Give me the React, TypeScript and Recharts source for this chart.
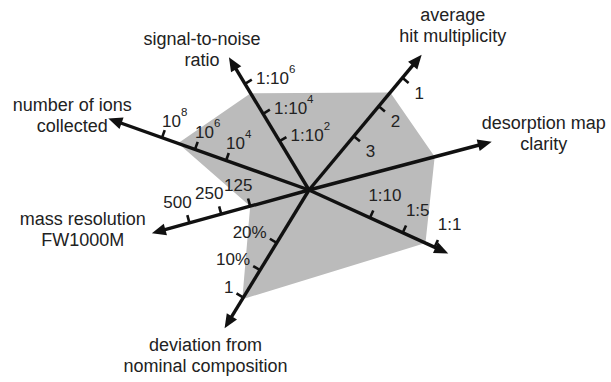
import { RadarChart, Radar, PolarAngleAxis, PolarRadiusAxis } from 'recharts'

// axes in counter-clockwise order, angle in degrees (0 = pointing right)
const AXIS_NAMES = [
  ['desorption map', 'clarity'],
  ['average', 'hit multiplicity'],
  ['signal-to-noise', 'ratio'],
  ['number of ions', 'collected'],
  ['mass resolution', 'FW1000M'],
  ['deviation from', 'nominal composition'],
  [],
]
const AXIS_ANGLES = [14.8, 50.2, 121.1, 160.4, 195.4, 238.6, 335.5]
const AXIS_LENGTHS = [189, 176, 155, 213, 163, 162, 153]
const SCORES = [130, 127, 113, 139, 61, 128, 128]
const TICK_1 = [null, 70, 57, 88, 61, 62, 67]
const TICK_2 = [null, 109, 89, 121, 91, 94, 103]
const TICK_3 = [null, 146, 124, 156, 124, 126, 138]
const TICK_LABELS = [
  [],
  ['3', '2', '1'],
  ['1:10^2', '1:10^4', '1:10^6'],
  ['10^4', '10^6', '10^8'],
  ['125', '250', '500'],
  ['20%', '10%', '1'],
  ['1:10', '1:5', '1:1'],
]

const data = AXIS_ANGLES.map((angle, i) => ({
  angle,
  len: AXIS_LENGTHS[i],
  score: SCORES[i],
  t1: TICK_1[i],
  t2: TICK_2[i],
  t3: TICK_3[i],
  idx: i,
}))

const W = 611
const H = 382
const CX = 309
const CY = 190
const R_MAX = 213
const FONT = '"Liberation Sans", Arial, sans-serif'
const INK = '#111'
const TEXT = '#222'

// name label: offset of centre / first baseline from arrow tip
const NAME_POS = [
  { dx: 52, dy: -13 },
  { dx: 31, dy: -34 },
  { dx: -27, dy: -12 },
  { dx: -36, dy: -8 },
  { dx: -69, dy: -8 },
  { dx: -19, dy: 23 },
  { dx: 0, dy: 0 },
]
// tick mark side and label offset from the point on the axis
const TICK_POS: { side: number; dx: number; dy: number; anchor: 'start' | 'middle' | 'end' }[] = [
  { side: 1, dx: 0, dy: 0, anchor: 'start' },
  { side: 1, dx: 12, dy: 21, anchor: 'start' },
  { side: 1, dx: 11, dy: 0, anchor: 'start' },
  { side: 1, dx: 0, dy: -11, anchor: 'start' },
  { side: 1, dx: -12, dy: -15, anchor: 'middle' },
  { side: 1, dx: -10, dy: -5, anchor: 'end' },
  { side: -1, dx: 15, dy: -17, anchor: 'middle' },
]

function unit(p: any) {
  const cx = p.cx ?? CX
  const cy = p.cy ?? CY
  const dx = p.x - cx
  const dy = p.y - cy
  const l = Math.hypot(dx, dy) || 1
  return { cx, cy, ux: dx / l, uy: dy / l }
}

function AxisArrows(props: any) {
  const { points } = props
  return (
    <g>
      {points.map((p: any, i: number) => {
        const { cx, cy, ux, uy } = unit(p)
        const nx = -uy
        const ny = ux
        const hl = 14
        const hw = 6
        const bx = p.x - ux * hl
        const by = p.y - uy * hl
        const idx = p.payload.idx
        const lines: string[] = AXIS_NAMES[idx]
        const pos = NAME_POS[idx]
        return (
          <g key={i}>
            <line x1={cx} y1={cy} x2={p.x - ux * 8} y2={p.y - uy * 8} stroke={INK} strokeWidth={3.4} />
            <polygon
              points={`${p.x},${p.y} ${bx + nx * hw},${by + ny * hw} ${bx - nx * hw},${by - ny * hw}`}
              fill={INK}
            />
            {lines.map((s, k) => (
              <text
                key={k}
                x={p.x + pos.dx}
                y={p.y + pos.dy + k * 21}
                textAnchor="middle"
                fontSize={18}
                fontFamily={FONT}
                fill={TEXT}
              >
                {s}
              </text>
            ))}
          </g>
        )
      })}
    </g>
  )
}

function makeTicks(level: number) {
  return function Ticks(props: any) {
    const { points } = props
    return (
      <g>
        {points.map((p: any, i: number) => {
          if (p.value == null || !isFinite(p.x)) return null
          const idx = p.payload.idx
          const lay = TICK_POS[idx]
          const { ux, uy } = unit(p)
          const nx = -uy * lay.side
          const ny = ux * lay.side
          const label: string = TICK_LABELS[idx][level] ?? ''
          const [base, exp] = label.split('^')
          return (
            <g key={i}>
              <line x1={p.x} y1={p.y} x2={p.x + nx * 8} y2={p.y + ny * 8} stroke={INK} strokeWidth={2.6} />
              <text
                x={p.x + lay.dx}
                y={p.y + lay.dy}
                textAnchor={lay.anchor}
                fontSize={17}
                fontFamily={FONT}
                fill={TEXT}
              >
                {base}
                {exp && (
                  <tspan dy={-11} fontSize={11.5}>
                    {exp}
                  </tspan>
                )}
              </text>
            </g>
          )
        })}
      </g>
    )
  }
}

const Tick1 = makeTicks(0)
const Tick2 = makeTicks(1)
const Tick3 = makeTicks(2)

export default function App() {
  return (
    <div style={{ position: 'absolute', left: 0, top: 0, width: W, height: H, background: '#fff' }}>
      <RadarChart
        width={W}
        height={H}
        data={data}
        cx={CX}
        cy={CY}
        innerRadius={0}
        outerRadius={R_MAX}
        startAngle={0}
        endAngle={360}
        margin={{ top: 0, right: 0, bottom: 0, left: 0 }}
      >
        <PolarAngleAxis dataKey="angle" type="number" domain={[0, 360]} tick={false} axisLine={false} />
        <PolarRadiusAxis type="number" domain={[0, R_MAX]} tick={false} axisLine={false} />
        <Radar dataKey="score" fill="#bbbbbb" fillOpacity={1} stroke="none" isAnimationActive={false} />
        <Radar dataKey="len" shape={AxisArrows} isAnimationActive={false} />
        <Radar dataKey="t1" shape={Tick1} isAnimationActive={false} />
        <Radar dataKey="t2" shape={Tick2} isAnimationActive={false} />
        <Radar dataKey="t3" shape={Tick3} isAnimationActive={false} />
      </RadarChart>
    </div>
  )
}
